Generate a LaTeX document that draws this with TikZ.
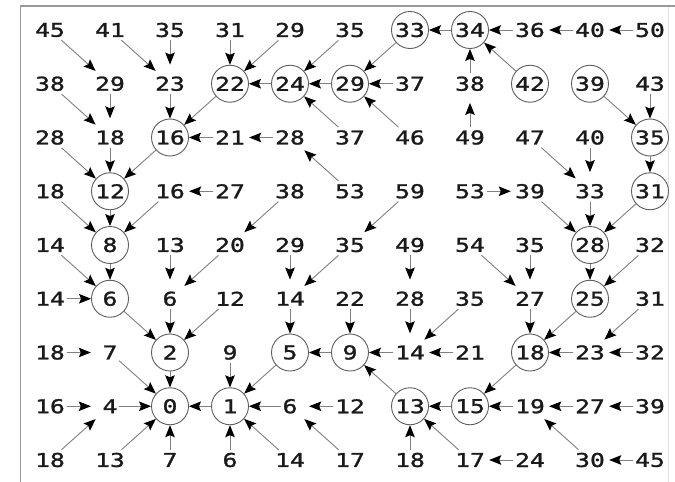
\documentclass[tikz,border=0pt]{standalone}
\usepackage{fontspec}
\newfontfamily\numfont[FakeStretch=1.3,FakeBold=1.3]{DejaVu Sans Mono}
\usetikzlibrary{arrows.meta}
\definecolor{ringc}{HTML}{5E5E5E}
\definecolor{linec}{HTML}{808080}
\definecolor{txtc}{HTML}{1A1A1A}
\definecolor{framec}{HTML}{9A9A9A}
\definecolor{framelt}{HTML}{E2E2E2}
\begin{document}
\begin{tikzpicture}[x=1pt,y=-1pt,
  num/.style={font={\fontsize{19}{19}\selectfont\numfont}, text=txtc, shape=rectangle, inner xsep=1.5pt, inner ysep=3pt},
  ring/.style={circle, draw=ringc, line width=0.9pt, minimum size=37pt, inner sep=0pt},
  halo/.style={circle, minimum size=38pt, inner sep=0pt},
  arr/.style={draw=linec, line width=0.9pt, -{Stealth[length=12pt,width=9.5pt,inset=2pt,color=black]}},
  frameline/.style={draw=framec}]
\useasboundingbox (0,0) rectangle (675,482);
\fill[white] (0,0) rectangle (675,482);
\draw[frameline, line width=2pt] (20,6) -- (675,6);
\draw[frameline, line width=1.3pt] (20.5,5) -- (20.5,482);
\draw[draw=framelt, line width=1pt] (668,7) -- (668,482);
\foreach \row [count=\ri from 0] in {
  {45/0,41/0,35/0,31/0,29/0,35/0,33/1,34/1,36/0,40/0,50/0},
  {38/0,29/0,23/0,22/1,24/1,29/1,37/0,38/0,42/1,39/1,43/0},
  {28/0,18/0,16/1,21/0,28/0,37/0,46/0,49/0,47/0,40/0,35/1},
  {18/0,12/1,16/0,27/0,38/0,53/0,59/0,53/0,39/0,33/0,31/1},
  {14/0,8/1,13/0,20/0,29/0,35/0,49/0,54/0,35/0,28/1,32/0},
  {14/0,6/1,6/0,12/0,14/0,22/0,28/0,35/0,27/0,25/1,31/0},
  {18/0,7/0,2/1,9/0,5/1,9/1,14/0,21/0,18/1,23/0,32/0},
  {16/0,4/0,0/1,1/1,6/0,12/0,13/1,15/1,19/0,27/0,39/0},
  {18/0,13/0,7/0,6/0,14/0,17/0,18/0,17/0,24/0,30/0,45/0}}{
  \foreach \v/\d [count=\ci from 0] in \row {
    \ifnum\d=1
      \node[num] (t\ri-\ci) at ({50+60*\ci},{30+53.75*\ri}) {\v};
      \node[ring, alias=s\ri-\ci] (k\ri-\ci) at ({50+60*\ci},{30+53.75*\ri}) {};
    \else
      \node[num, alias=s\ri-\ci] (t\ri-\ci) at ({50+60*\ci},{30+53.75*\ri}) {\v};
      \node[halo] (k\ri-\ci) at ({50+60*\ci},{30+53.75*\ri}) {};
    \fi
  }
}
\foreach \a/\b in {
  0-0/1-1, 0-1/1-2, 0-2/1-2, 0-3/1-3, 0-4/1-3, 0-5/1-4, 0-7/0-6, 0-8/0-7, 0-9/0-8, 0-10/0-9, 0-6/1-5,
  1-0/2-1, 1-1/2-1, 1-2/2-2, 1-3/2-2, 1-4/1-3, 1-5/1-4, 1-6/1-5, 1-7/0-7, 1-8/0-7, 1-9/2-10, 1-10/2-10,
  2-0/3-1, 2-1/3-1, 2-2/3-1, 2-3/2-2, 2-4/2-3, 2-5/1-4, 2-6/1-5, 2-7/1-7, 2-8/3-9, 2-9/3-9, 2-10/3-10,
  3-0/4-1, 3-1/4-1, 3-2/4-1, 3-3/3-2, 3-4/4-3, 3-5/2-4, 3-6/4-5, 3-7/3-8, 3-8/4-9, 3-9/4-9, 3-10/4-9,
  4-0/5-1, 4-1/5-1, 4-2/5-2, 4-3/5-2, 4-4/5-4, 4-5/5-4, 4-6/5-6, 4-7/5-8, 4-8/5-8, 4-9/5-9, 4-10/5-9,
  5-0/5-1, 5-1/6-2, 5-2/6-2, 5-3/6-2, 5-4/6-4, 5-5/6-5, 5-6/6-6, 5-7/6-6, 5-8/6-8, 5-9/6-8, 5-10/6-9,
  6-0/6-1, 6-1/7-2, 6-2/7-2, 6-3/7-3, 6-4/7-3, 6-5/6-4, 6-6/6-5, 6-7/6-6, 6-8/7-7, 6-9/6-8, 6-10/6-9,
  7-0/7-1, 7-1/7-2, 7-3/7-2, 7-4/7-3, 7-5/7-4, 7-6/6-5, 7-7/7-6, 7-8/7-7, 7-9/7-8, 7-10/7-9,
  8-0/7-1, 8-1/7-2, 8-2/7-2, 8-3/7-3, 8-4/7-3, 8-5/7-4, 8-6/7-6, 8-7/7-6, 8-8/8-7, 8-9/7-8, 8-10/8-9}
  \draw[arr] (s\a) -- (k\b);
\end{tikzpicture}
\end{document}
